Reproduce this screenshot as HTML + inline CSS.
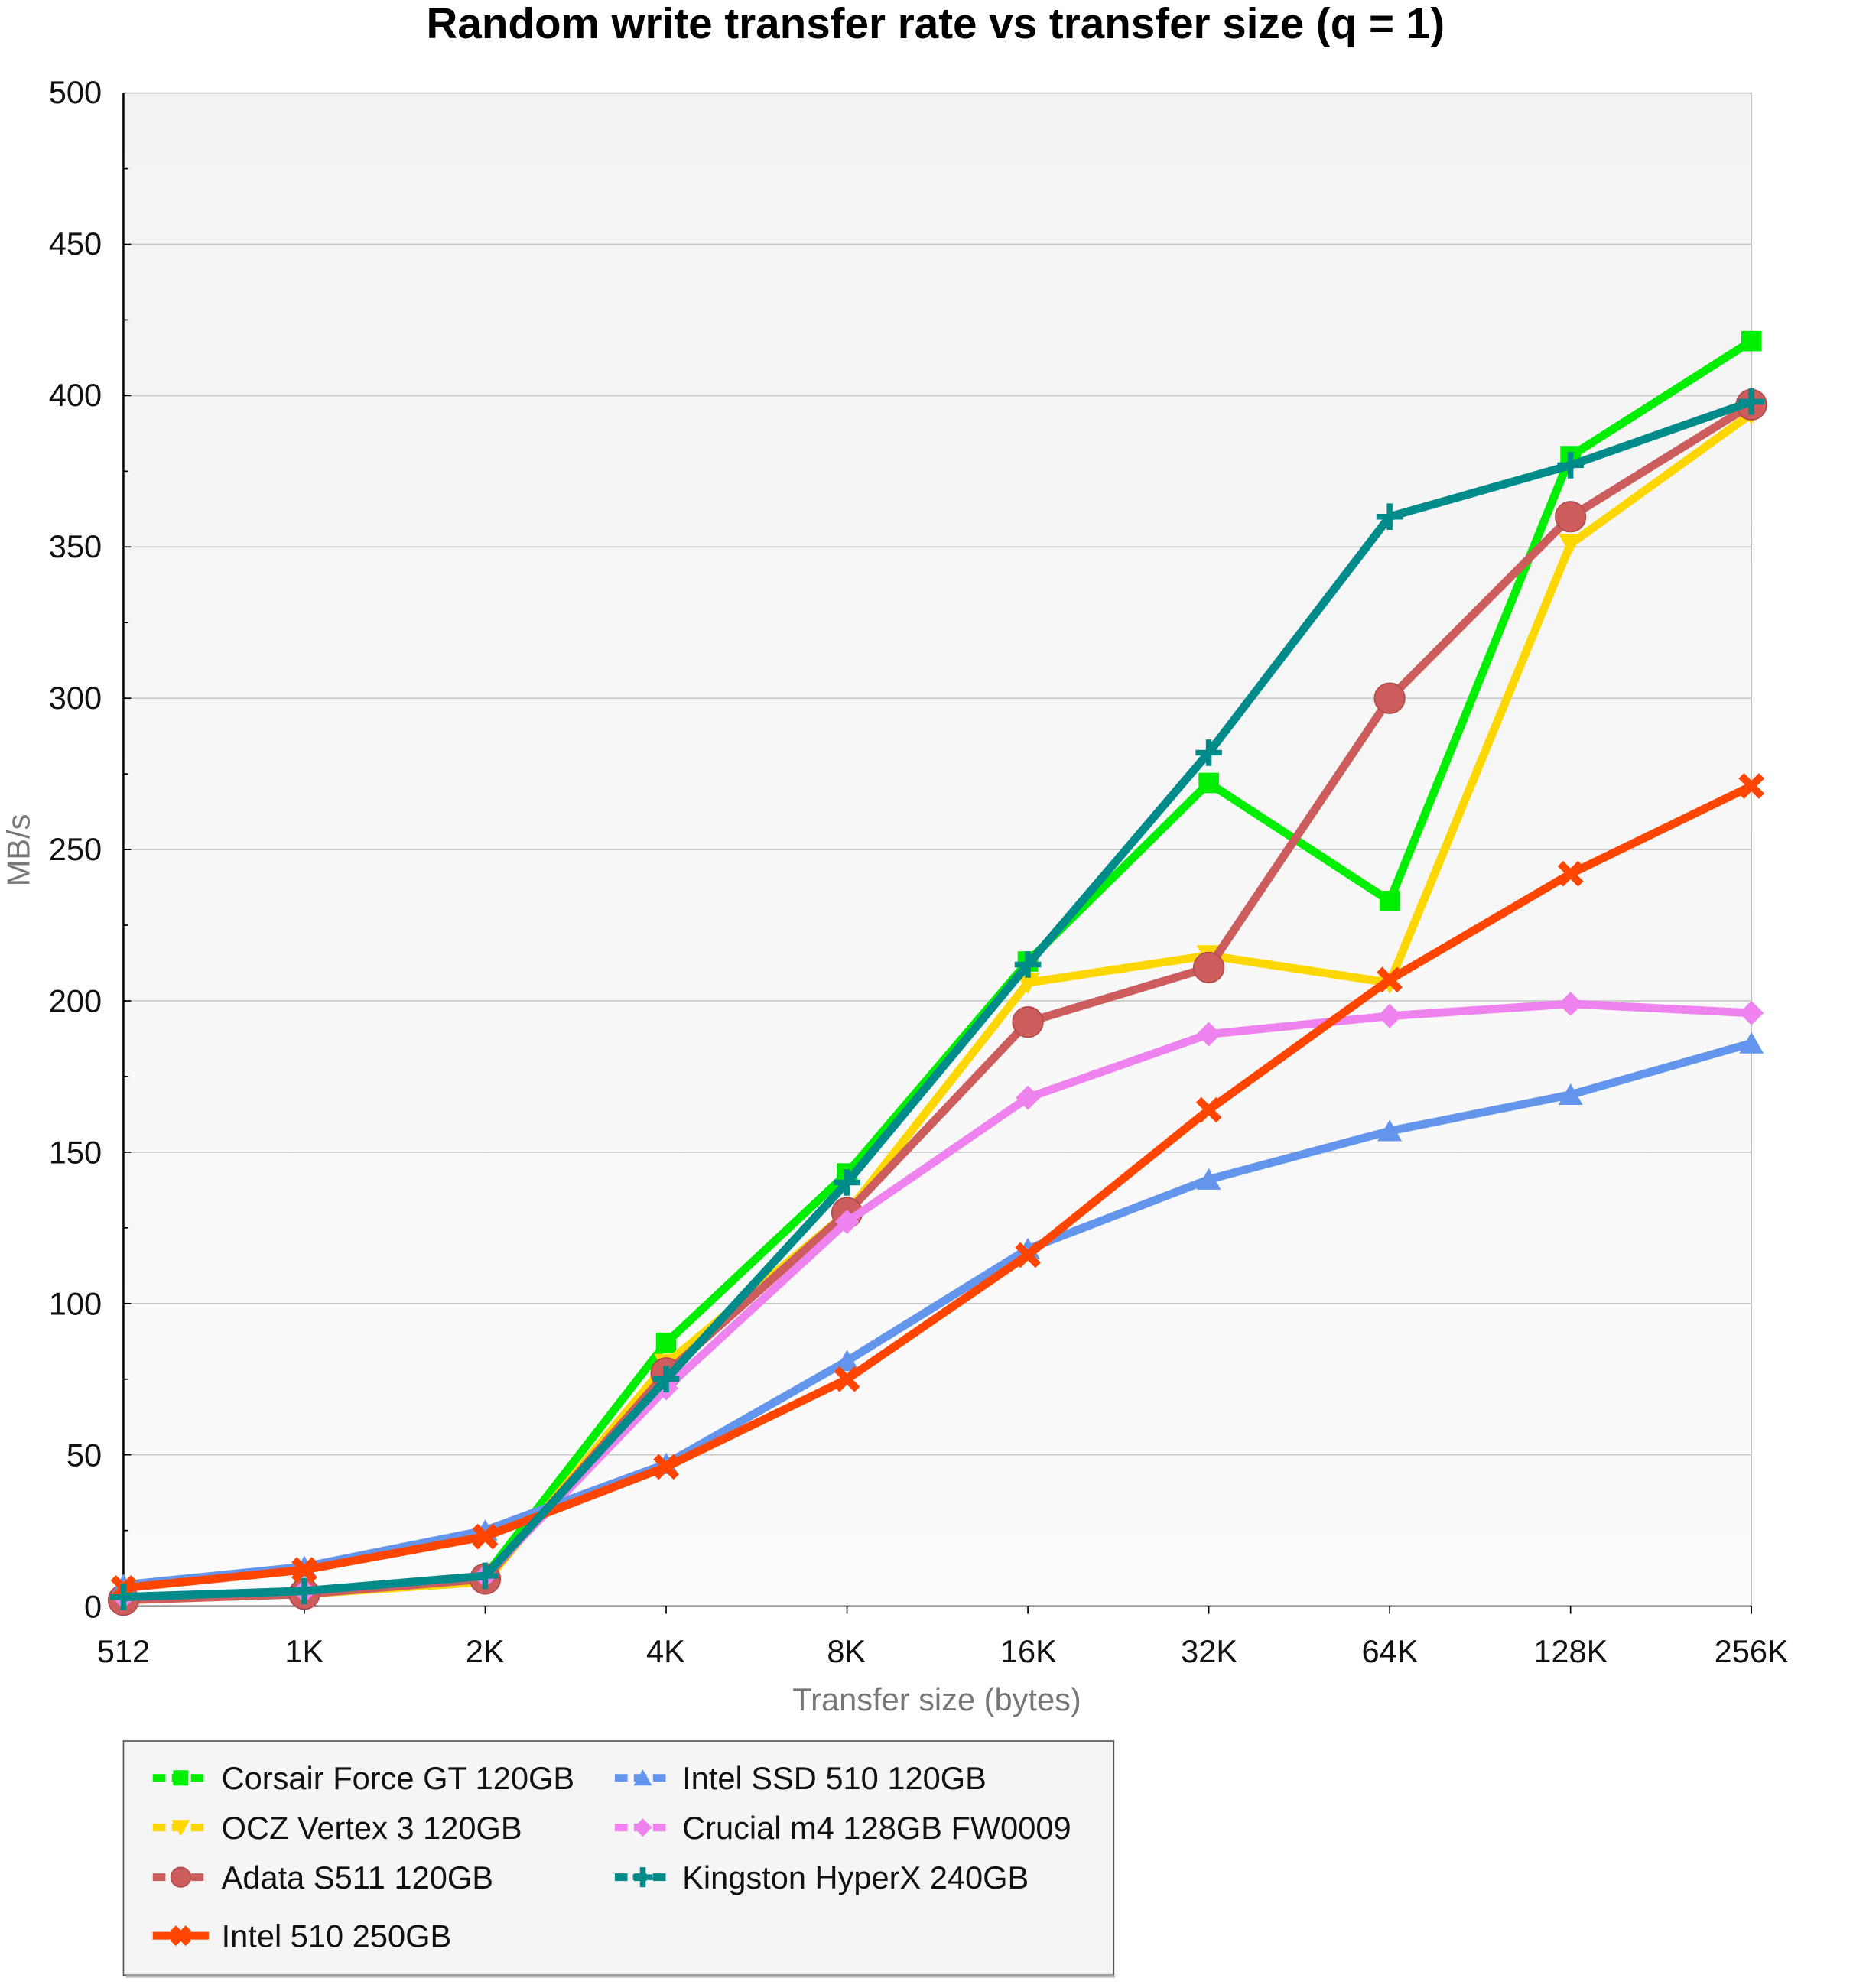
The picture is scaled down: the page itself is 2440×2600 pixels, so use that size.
<!DOCTYPE html>
<html><head><meta charset="utf-8"><style>
html,body{margin:0;padding:0;background:#fff}
svg{display:block}
text{font-family:"Liberation Sans",Arial,sans-serif}
</style></head><body>
<svg id="s" width="2440" height="2600" viewBox="0 0 1466 1562" xmlns="http://www.w3.org/2000/svg">
<defs><linearGradient id="bg" x1="0" y1="0" x2="0" y2="1"><stop offset="0" stop-color="#f3f3f3"/><stop offset="1" stop-color="#fbfbfb"/></linearGradient></defs>
<rect x="0" y="0" width="1466" height="1562" fill="#fff"/>
<text x="735" y="30" font-size="34" font-weight="bold" text-anchor="middle" fill="#000">Random write transfer rate vs transfer size (q = 1)</text>
<rect x="97" y="73" width="1279" height="1189" fill="url(#bg)" stroke="#bbb" stroke-width="1"/>
<g id="grid"></g>
<line x1="97" y1="73" x2="97" y2="1262" stroke="#000" stroke-width="1.5"/>
<line x1="97" y1="1262" x2="1376" y2="1262" stroke="#000" stroke-width="1"/>
<g font-size="25" fill="#111" text-anchor="end">
<text x="80" y="1271">0</text><text x="80" y="1152">50</text><text x="80" y="1033">100</text><text x="80" y="914">150</text><text x="80" y="795">200</text><text x="80" y="676">250</text><text x="80" y="557">300</text><text x="80" y="438">350</text><text x="80" y="319">400</text><text x="80" y="200">450</text><text x="80" y="81">500</text>
</g>
<g font-size="25" fill="#111" text-anchor="middle">
<text x="97" y="1306">512</text><text x="239" y="1306">1K</text><text x="381" y="1306">2K</text><text x="523" y="1306">4K</text><text x="665" y="1306">8K</text><text x="808" y="1306">16K</text><text x="950" y="1306">32K</text><text x="1092" y="1306">64K</text><text x="1234" y="1306">128K</text><text x="1376" y="1306">256K</text>
</g>
<text x="736" y="1344" font-size="25" fill="#777" text-anchor="middle">Transfer size (bytes)</text>
<text transform="translate(23,668) rotate(-90)" font-size="25" fill="#777" text-anchor="middle">MB/s</text>
<g id="series"></g>
<rect x="97" y="1368" width="778" height="184" fill="#f5f5f5" stroke="#555" stroke-width="1"/>
<line x1="99" y1="1553" x2="876" y2="1553" stroke="#bbb" stroke-width="2"/>
<g id="legend"></g>
<g font-size="25" fill="#111">
<text x="174" y="1406">Corsair Force GT 120GB</text>
<text x="174" y="1445">OCZ Vertex 3 120GB</text>
<text x="174" y="1484">Adata S511 120GB</text>
<text x="174" y="1530">Intel 510 250GB</text>
<text x="536" y="1406">Intel SSD 510 120GB</text>
<text x="536" y="1445">Crucial m4 128GB FW0009</text>
<text x="536" y="1484">Kingston HyperX 240GB</text>
</g>
</svg>
<script>
var NS="http://www.w3.org/2000/svg";
function el(p,t,a){var e=document.createElementNS(NS,t);for(var k in a)e.setAttribute(k,a[k]);p.appendChild(e);return e;}
var g=document.getElementById('grid');
for(var v=25;v<500;v+=25){var y=1262-v*2.378;
 if(v%50==0)el(g,'line',{x1:97,y1:y,x2:1376,y2:y,stroke:'#c8c8c8','stroke-width':1});
 el(g,'line',{x1:97,y1:y,x2:v%50==0?103:101,y2:y,stroke:'#000','stroke-width':1});}
for(var i=0;i<10;i++){var x=97+i*142.11;el(g,'line',{x1:x,y1:1262,x2:x,y2:1268,stroke:'#000','stroke-width':1});}
function X(i){return 97+i*142.11}function Y(v){return 1262-v*2.378}
function marker(p,type,x,y,c,s){
 if(type=='sq')el(p,'rect',{x:x-s,y:y-s,width:2*s,height:2*s,fill:c});
 else if(type=='dn')el(p,'polygon',{points:(x-s*1.2)+','+(y-s)+' '+(x+s*1.2)+','+(y-s)+' '+x+','+(y+s*1.1),fill:c});
 else if(type=='up')el(p,'polygon',{points:(x-s*1.2)+','+(y+s)+' '+(x+s*1.2)+','+(y+s)+' '+x+','+(y-s*1.1),fill:c});
 else if(type=='ci')el(p,'circle',{cx:x,cy:y,r:s*1.4,fill:c,stroke:'#b24a4a','stroke-width':1});
 else if(type=='di')el(p,'polygon',{points:x+','+(y-s*1.2)+' '+(x+s*1.2)+','+y+' '+x+','+(y+s*1.2)+' '+(x-s*1.2)+','+y,fill:c});
 else if(type=='x'){el(p,'path',{d:'M'+(x-s)+' '+(y-s)+'L'+(x+s)+' '+(y+s)+'M'+(x+s)+' '+(y-s)+'L'+(x-s)+' '+(y+s),stroke:c,'stroke-width':6,fill:'none'});}
 else if(type=='pl'){el(p,'path',{d:'M'+(x-s*1.3)+' '+y+'L'+(x+s*1.3)+' '+y+'M'+x+' '+(y-s*1.3)+'L'+x+' '+(y+s*1.3),stroke:c,'stroke-width':4.5,fill:'none'});}
}
var S=[
['#00ee00','sq',[2,5,10,87,143,213,272,233,380,418],0],
['#ffd700','dn',[2,4,8,80,130,206,215,206,351,394],1],
['#cd5c5c','ci',[2,4,9,77,130,193,211,300,360,397],2],
['#ee82ee','di',[3,5,10,72,127,168,189,195,199,196],5],
['#6495ed','up',[7,13,25,47,81,118,141,157,169,186],4],
['#ff4500','x',[6,12,23,46,75,116,164,207,242,271],3],
['#008b8b','pl',[3,5,10,75,140,212,282,360,377,398],6]
];
var sg=document.getElementById('series'),lg=document.getElementById('legend');
var lpos=[[120,1397],[120,1436],[120,1475],[120,1521],[483,1397],[483,1436],[483,1475]];
S.forEach(function(s){
 var pts=s[2].map(function(v,i){return X(i)+','+Y(v)}).join(' ');
 el(sg,'polyline',{points:pts,fill:'none',stroke:s[0],'stroke-width':6.5,'stroke-linejoin':'round'});
 s[2].forEach(function(v,i){marker(sg,s[1],X(i),Y(v),s[0],s[1]=='ci'?8.5:8)});
 var p=lpos[s[3]];
 el(lg,'line',{x1:p[0],y1:p[1],x2:p[0]+44,y2:p[1],stroke:s[0],'stroke-width':6,'stroke-dasharray':s[3]==3?'':'10,5'});
 marker(lg,s[1],p[0]+22,p[1],s[0],s[1]=='ci'?5.5:6);
});
</script>
</body></html>
